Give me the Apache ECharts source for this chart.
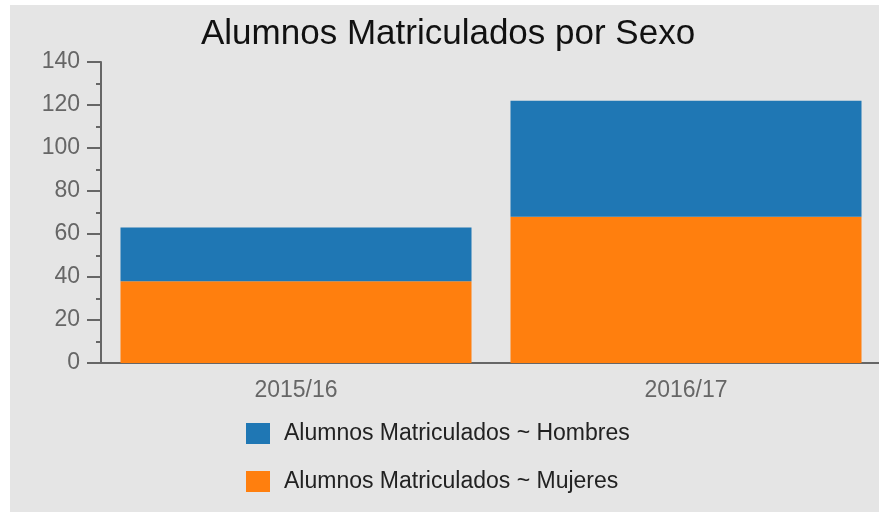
<!DOCTYPE html>
<html>
<head>
    <meta charset="utf-8">
    <script src="https://cdn.jsdelivr.net/npm/echarts@6/dist/echarts.min.js"></script>
    <style>
        html, body { margin: 0; padding: 0; background: #fff; }
        #bg { position: absolute; left: 10px; top: 5px; width: 869px; height: 507px; background: #e5e5e5; }
        #main { position: absolute; left: 0; top: 0; width: 879px; height: 512px; }
    </style>
</head>
<body>
    <div id="bg"></div>
    <div id="main"></div>
    <script>
        var titleText = 'Alumnos Matriculados por Sexo';
        var categories = ['2015/16', '2016/17'];
        var seriesNames = ['Alumnos Matriculados ~ Hombres', 'Alumnos Matriculados ~ Mujeres'];
        var hombres = [25, 54];
        var mujeres = [38, 68];

        var chart = echarts.init(document.getElementById('main'));

        var axisColor = '#666';
        var font = '"Liberation Sans", Arial, sans-serif';

        var option = {
            backgroundColor: 'transparent',
            animation: false,
            title: {
                text: titleText,
                left: 196,
                top: 12,
                textStyle: { fontFamily: font, fontSize: 35, fontWeight: 'normal', color: '#111' }
            },
            legend: {
                orient: 'vertical',
                left: 241,
                top: 417,
                itemWidth: 24,
                itemHeight: 21,
                itemGap: 25,
                icon: 'rect',
                data: seriesNames,
                textStyle: { fontFamily: font, fontSize: 23, color: '#222', padding: [0, 0, 0, 9], lineHeight: 21 }
            },
            grid: {
                left: 101,
                right: -2,
                top: 62,
                bottom: 149,
                containLabel: false,
                outerBoundsMode: 'none'
            },
            xAxis: {
                type: 'category',
                data: categories,
                axisLine: { lineStyle: { color: axisColor, width: 2 } },
                axisTick: { alignWithLabel: true, length: 6, lineStyle: { color: axisColor, width: 2 } },
                axisLabel: { fontFamily: font, fontSize: 23, color: axisColor, margin: 16 },
                splitLine: { show: false }
            },
            yAxis: {
                type: 'value',
                min: 0,
                max: 140,
                interval: 20,
                axisLine: { show: true, lineStyle: { color: axisColor, width: 2 } },
                axisTick: { show: true, length: 14, lineStyle: { color: axisColor, width: 2 } },
                minorTick: { show: true, splitNumber: 2, length: 5, lineStyle: { color: axisColor, width: 2 } },
                axisLabel: { fontFamily: font, fontSize: 23, color: axisColor, margin: 21 },
                splitLine: { show: false }
            },
            series: [{
                name: seriesNames[1],
                type: 'bar',
                stack: 'total',
                barCategoryGap: '10%',
                itemStyle: { color: '#ff7f0e' },
                data: mujeres
            }, {
                name: seriesNames[0],
                type: 'bar',
                stack: 'total',
                barCategoryGap: '10%',
                itemStyle: { color: '#1f77b4' },
                data: hombres
            }]
        };

        chart.setOption(option);
    </script>
</body>
</html>
